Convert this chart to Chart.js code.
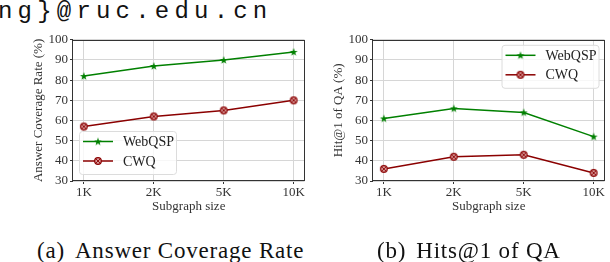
<!DOCTYPE html>
<html>
<head>
<meta charset="utf-8">
<script src="https://cdn.jsdelivr.net/npm/chart.js@4.4.1/dist/chart.umd.min.js"></script>
<style>
  body { margin: 0; width: 610px; height: 262px; background: #fff; position: relative; overflow: hidden; }
  #mail { position: absolute; left: -2px; top: 0px; font-size: 24px; line-height: 24px; font-family: 'Liberation Mono'; letter-spacing: 5.2px; color: #111; white-space: nowrap; }
  .cap { position: absolute; top: 239px; font-size: 23px; line-height: 23px; font-family: 'Liberation Serif'; letter-spacing: 0.8px; color: #111; white-space: nowrap; }
  .cap span { margin-right: 10px; }
  canvas { position: absolute; top: 30px; }
</style>
</head>
<body>
<div id="mail">ng}@ruc.edu.cn</div>
<canvas id="coverage" width="310" height="190" style="left:0"></canvas>
<canvas id="hits" width="310" height="190" style="left:300px"></canvas>
<div class="cap" style="left:37px"><span>(a)</span>Answer Coverage Rate</div>
<div class="cap" style="left:377px"><span>(b)</span>Hits@1 of QA</div>
<script>
const sizes = ['1K', '2K', '5K', '10K'];
const coverageWebQSP = [82, 87, 90, 94];
const coverageCWQ = [57, 62, 65, 70];
const hitsWebQSP = [61, 66, 64, 52];
const hitsCWQ = [36, 42, 43, 34];
const seriesNames = ['WebQSP', 'CWQ'];

const GREEN = '#008000';
const RED = '#8b0000';
const SERIF = "'Liberation Serif'";

Chart.defaults.font.family = SERIF;
Chart.defaults.color = '#333';

// marker images
function starMarker(color) {
    const c = document.createElement('canvas');
    c.width = 10; c.height = 10;
    const g = c.getContext('2d');
    g.beginPath();
    for (let i = 0; i < 10; i++) {
        const r = i % 2 ? 1.7 : 4.2;
        const a = -Math.PI / 2 + i * Math.PI / 5;
        g.lineTo(5 + r * Math.cos(a), 5.3 + r * Math.sin(a));
    }
    g.closePath();
    g.fillStyle = color;
    g.fill();
    return c;
}

function circleXMarker(color) {
    const c = document.createElement('canvas');
    c.width = 10; c.height = 10;
    const g = c.getContext('2d');
    g.strokeStyle = color;
    g.fillStyle = '#d89a9a';
    g.lineWidth = 1.2;
    g.beginPath();
    g.arc(5, 5, 3.3, 0, Math.PI * 2);
    g.fill();
    g.stroke();
    g.lineWidth = 0.9;
    g.beginPath();
    g.moveTo(3, 3); g.lineTo(7, 7);
    g.moveTo(7, 3); g.lineTo(3, 7);
    g.stroke();
    return c;
}

const starImg = starMarker(GREEN);
const circImg = circleXMarker(RED);

const framePlugin = {
    id: 'frame',
    afterDraw(chart) {
        const { ctx, chartArea: a } = chart;
        ctx.save();
        ctx.strokeStyle = '#333';
        ctx.lineWidth = 1;
        ctx.strokeRect(Math.round(a.left) - 0.5, Math.round(a.top) + 0.5,
            Math.round(a.right - a.left), Math.round(a.bottom - a.top) - 1);
        ctx.restore();
    },
};

const boxLegend = {
    id: 'boxLegend',
    afterDraw(chart, args, opts) {
        const { ctx, chartArea: a } = chart;
        const w = 97, h = 43;
        const x = opts.corner === 'bl' ? a.left + 6 : a.right - 6 - w;
        const y = opts.corner === 'bl' ? a.bottom - 7 - h : a.top + 5;
        ctx.save();
        ctx.beginPath();
        ctx.roundRect(x + 0.5, y + 0.5, w, h, 3);
        ctx.fillStyle = 'rgba(255,255,255,0.8)';
        ctx.fill();
        ctx.strokeStyle = '#dcdcdc';
        ctx.lineWidth = 1;
        ctx.stroke();
        chart.data.datasets.forEach((ds, i) => {
            const ly = y + 10.5 + i * 19.5;
            ctx.beginPath();
            ctx.moveTo(x + 4, ly);
            ctx.lineTo(x + 34, ly);
            ctx.strokeStyle = ds.borderColor;
            ctx.lineWidth = 1.5;
            ctx.stroke();
            ctx.drawImage(ds.pointStyle, x + 19 - 5, ly - 5);
            ctx.fillStyle = '#222';
            ctx.font = '14px ' + SERIF;
            ctx.textBaseline = 'middle';
            ctx.fillText(ds.label, x + 44, ly + 1);
        });
        ctx.restore();
    },
};

function points(values) {
    return values.map((v, i) => ({ x: i, y: v }));
}

function makeChart(id, webqsp, cwq, yTitle, corner) {
    return new Chart(document.getElementById(id), {
        type: 'line',
        data: {
            datasets: [
                {
                    label: seriesNames[0],
                    data: points(webqsp),
                    borderColor: GREEN,
                    borderWidth: 1.5,
                    pointStyle: starImg,
                    pointRadius: 4,
                },
                {
                    label: seriesNames[1],
                    data: points(cwq),
                    borderColor: RED,
                    borderWidth: 1.5,
                    pointStyle: circImg,
                    pointRadius: 4,
                },
            ],
        },
        plugins: [framePlugin, boxLegend],
        options: {
            responsive: false,
            animation: false,
            devicePixelRatio: 1,
            layout: { padding: { top: 8, right: 3, left: 0, bottom: 0 } },
            scales: {
                x: {
                    type: 'linear',
                    min: -0.155,
                    max: 3.155,
                    afterBuildTicks: (s) => { s.ticks = sizes.map((_, i) => ({ value: i })); },
                    afterFit: (s) => { s.height = 39; },
                    border: { display: false },
                    grid: { color: '#d6d6d6', tickColor: '#333', tickLength: 3 },
                    ticks: {
                        padding: 1,
                        font: { size: 13 },
                        callback: (v) => sizes[v],
                    },
                    title: {
                        display: true,
                        text: 'Subgraph size',
                        font: { size: 13 },
                        padding: { top: 0, bottom: 6 },
                    },
                },
                y: {
                    min: 30,
                    max: 100,
                    afterFit: (s) => { s.width = 73; },
                    border: { display: false },
                    grid: { color: '#d6d6d6', tickColor: '#333', tickLength: 3 },
                    ticks: { stepSize: 10, padding: 2, font: { size: 13 } },
                    title: {
                        display: true,
                        text: yTitle,
                        font: { size: 13 },
                        padding: { top: 31, bottom: 0 },
                    },
                },
            },
            plugins: {
                legend: { display: false },
                tooltip: { enabled: false },
                boxLegend: { corner: corner },
            },
        },
    });
}

makeChart('coverage', coverageWebQSP, coverageCWQ, 'Answer Coverage Rate (%)', 'bl');
makeChart('hits', hitsWebQSP, hitsCWQ, 'Hit@1 of QA (%)', 'tr');
</script>
</body>
</html>
